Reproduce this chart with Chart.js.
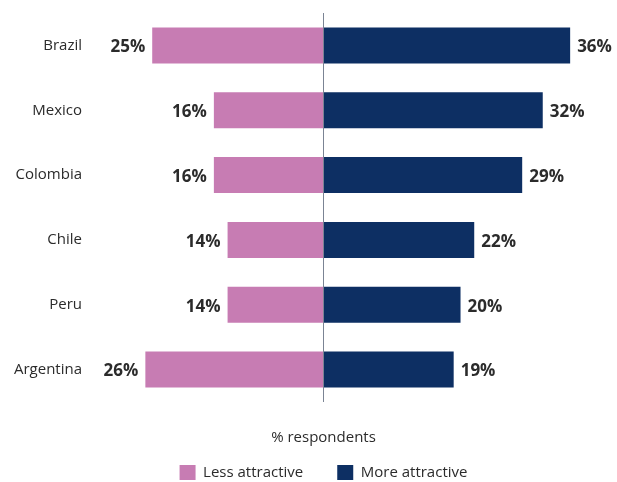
<!DOCTYPE html>
<html>
<head>
<meta charset="utf-8">
<script src="https://cdn.jsdelivr.net/npm/chart.js@4/dist/chart.umd.min.js"></script>
<style>
  html, body { margin: 0; padding: 0; background: #fff; overflow: hidden; }
  #chart { display: block; }
</style>
</head>
<body>
<canvas id="chart" width="617" height="492"></canvas>
<script>
const countries = ['Brazil', 'Mexico', 'Colombia', 'Chile', 'Peru', 'Argentina'];
const lessAttractive = [25, 16, 16, 14, 14, 26];
const moreAttractive = [36, 32, 29, 22, 20, 19];
const seriesNames = ['Less attractive', 'More attractive'];
const axisTitle = '% respondents';

const pink = '#c77cb3';
const navy = '#0d2f63';
const textColor = '#2b2b2b';
const fontFamily = '"Open Sans", "Noto Sans", sans-serif';

const ctx = document.getElementById('chart').getContext('2d');

// country names end at x=82; the y axis has no width, so the mirrored
// labels are pushed right by the widest one
ctx.font = '15px ' + fontFamily;
const widest = Math.max(...countries.map(c => ctx.measureText(c).width));
const labelPad = 82 - 33 - widest;

// percent labels just past the end of each bar
const barLabels = {
  id: 'barLabels',
  afterDatasetsDraw(chart) {
    const c = chart.ctx;
    c.save();
    c.font = 'bold 17px ' + fontFamily;
    c.fillStyle = textColor;
    c.textBaseline = 'middle';
    chart.data.datasets.forEach((ds, i) => {
      chart.getDatasetMeta(i).data.forEach((bar, j) => {
        const v = ds.data[j];
        const txt = Math.abs(v) + '%';
        if (v < 0) {
          c.textAlign = 'right';
          c.fillText(txt, bar.x - 7, bar.y + 2);
        } else {
          c.textAlign = 'left';
          c.fillText(txt, bar.x + 7, bar.y + 2);
        }
      });
    });
    c.restore();
  }
};

const chart = new Chart(ctx, {
  type: 'bar',
  data: {
    labels: countries,
    datasets: [{
      label: seriesNames[0],
      data: lessAttractive.map(v => -v),
      backgroundColor: pink
    }, {
      label: seriesNames[1],
      data: moreAttractive,
      backgroundColor: navy
    }]
  },
  options: {
    indexAxis: 'y',
    responsive: false,
    animation: false,
    categoryPercentage: 1,
    barPercentage: 0.555,
    layout: { padding: { left: 33, right: 3, top: 13, bottom: 2 } },
    scales: {
      x: {
        stacked: true,
        min: -42.4,
        max: 42.4,
        ticks: { display: false, stepSize: 10 },
        grid: {
          drawTicks: false,
          lineWidth: 1,
          color: c => (c.tick && c.tick.value === 0) ? '#7b8494' : 'rgba(0,0,0,0)'
        },
        border: { display: false }
      },
      y: {
        stacked: true,
        grid: { display: false, drawTicks: false },
        border: { display: false },
        ticks: {
          mirror: true,
          crossAlign: 'far',
          padding: labelPad,
          color: textColor,
          font: { family: fontFamily, size: 15 }
        },
        afterFit(scale) { scale.width = 0; }
      }
    },
    plugins: {
      tooltip: { enabled: false },
      legend: {
        position: 'bottom',
        padding: 34,
        title: {
          display: true,
          text: axisTitle,
          color: textColor,
          font: { family: fontFamily, size: 15 },
          padding: { top: 28.5, bottom: -17.5 }
        },
        labels: {
          boxWidth: 16,
          boxHeight: 15,
          padding: 34,
          color: textColor,
          font: { family: fontFamily, size: 15 }
        }
      }
    }
  },
  plugins: [barLabels]
});
</script>
</body>
</html>
